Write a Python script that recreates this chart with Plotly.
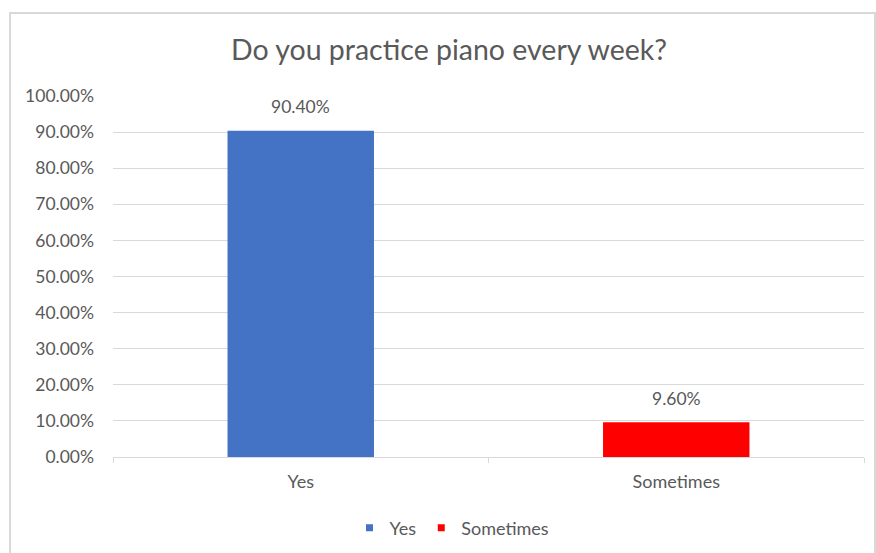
import plotly.graph_objects as go

categories = ["Yes", "Sometimes"]
values = [0.904, 0.096]
colors = ["#4472C4", "#FF0000"]

W, H = 876, 553
L, R, T, B = 113, 12, 96, 96
pw = W - L - R
ph = H - T - B

font = "Lato, Carlito, Calibri, sans-serif"
fig = go.Figure()
for c, v, col in zip(categories, values, colors):
    fig.add_trace(go.Bar(
        x=[c], y=[v], name=c, marker_color=col,
        marker_line_width=0, showlegend=False,
    ))
    fig.add_annotation(x=c, y=v, text=f"{v:.2%}", showarrow=False,
                       yanchor="middle", yshift=24,
                       font=dict(size=17.5, color="#595959", family=font))
    # legend entry with small square marker
    fig.add_trace(go.Scatter(
        x=[None], y=[None], mode="markers", name=c,
        marker=dict(symbol="square", size=7, color=col),
        showlegend=True,
    ))

fig.update_layout(
    width=W, height=H,
    margin=dict(l=L, r=R, t=T, b=B, autoexpand=False),
    paper_bgcolor="white", plot_bgcolor="white",
    barmode="overlay", bargap=0.61,
    font=dict(family=font, color="#595959", size=17),
    title=dict(text="Do you practice piano every week?", x=449 / W, xanchor="center",
               y=1 - 50 / H, yanchor="middle",
               font=dict(size=28.5, color="#595959", family=font)),
    xaxis=dict(categoryorder="array", categoryarray=categories,
               showline=True, linecolor="#D9D9D9", linewidth=1,
               ticks="outside", tickson="boundaries", ticklen=5, tickcolor="#D9D9D9",
               ticklabelstandoff=8, automargin=False,
               tickfont=dict(size=18, color="#595959"), showgrid=False),
    yaxis=dict(range=[0, 1], dtick=0.1, tickformat=".2%", showgrid=True,
               gridcolor="#D9D9D9", gridwidth=1, zeroline=False, showline=False,
               ticks="", ticklabelstandoff=18, automargin=False,
               tickfont=dict(size=17.5, color="#595959")),
    legend=dict(orientation="h", x=(452 - L) / pw,
                xanchor="center", y=-(528 - (H - B)) / ph, yanchor="middle",
                font=dict(size=18, color="#595959"), itemwidth=30,
                tracegroupgap=0),
    showlegend=True,
)

x0 = (10 - L) / pw
x1 = (875 - L) / pw
y1 = ((H - B) - 13) / ph
y0 = ((H - B) - 560) / ph
fig.add_shape(type="rect", xref="paper", yref="paper", x0=x0, x1=x1, y0=y0, y1=y1,
              line=dict(color="#D9D9D9", width=2), fillcolor="rgba(0,0,0,0)", layer="below")

fig.write_html("out.html")
